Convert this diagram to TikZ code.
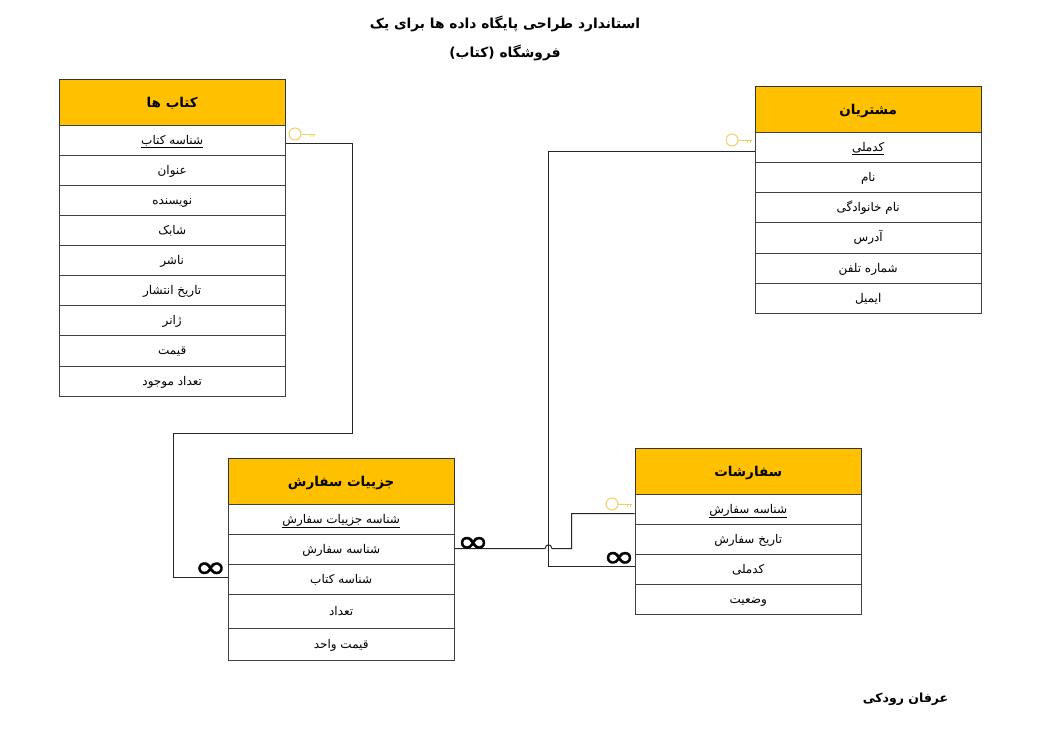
\documentclass[tikz,border=0pt]{standalone}
\usepackage{fontspec}
\TeXXeTstate=1
\newfontfamily\fafont[Script=Arabic]{DejaVu Sans}
\newfontfamily\symfont[FakeStretch=1.25,FakeBold=1.2]{DejaVu Sans}
\newcommand{\fa}[1]{{\fafont\beginR #1\endR}}
\usetikzlibrary{calc}
\definecolor{headgold}{HTML}{FFC000}
\definecolor{keygold}{HTML}{F0D060}
\tikzset{
  x=1pt,y=-1pt,
  rowbox/.style={draw=black!75,line width=1pt,fill=white,minimum width=226pt,inner sep=0pt,anchor=north west,xshift=-0.8pt,yshift=0.8pt,text height=12pt,text depth=4pt,font=\fontsize{12}{14}\selectfont},
  headbox/.style={draw=black!80,line width=1pt,fill=headgold,minimum width=226pt,minimum height=46pt,inner sep=0pt,anchor=north west,xshift=-0.8pt,yshift=0.8pt,text height=14pt,text depth=4pt,font=\fontsize{13.5}{16}\selectfont\bfseries},
  conn/.style={draw=black!85,line width=1pt},
  keyicon/.style={draw=keygold,line width=1pt},
  manymark/.style={inner sep=0pt,font=\fontsize{31}{31}\selectfont\symfont},
  titletext/.style={inner sep=0pt,align=center,font=\fontsize{13.8}{29}\selectfont\bfseries},
}
\newcommand{\keyat}[2]{%
  \draw[keyicon] (#1,#2) circle[radius=6pt];
  \draw[keyicon] (#1+6,#2) -- (#1+20,#2) (#1+15,#2) -- (#1+15,#2+3) (#1+18,#2) -- (#1+18,#2+3);}
\begin{document}
\begin{tikzpicture}
\useasboundingbox[fill=white] (0,0) rectangle (1046,731);

% title
\node[titletext] (title) at (505,38.5) {\fa{استاندارد طراحی پایگاه داده ها برای یک}\\\fa{فروشگاه (کتاب)}};
\node[inner sep=0pt,font=\fontsize{12.5}{16}\selectfont\bfseries] (author) at (905.5,699.5) {\fa{عرفان رودکی}};

% books
\node[headbox] (bh) at (59.5,79.5) {\fa{کتاب ها}};
\node[rowbox,minimum height=30pt] (b1) at (59.5,125.5) {\underline{\fa{شناسه کتاب}}};
\node[rowbox,minimum height=30pt] (b2) at (59.5,155.5) {\fa{عنوان}};
\node[rowbox,minimum height=30pt] (b3) at (59.5,185.5) {\fa{نویسنده}};
\node[rowbox,minimum height=30pt] (b4) at (59.5,215.5) {\fa{شابک}};
\node[rowbox,minimum height=30pt] (b5) at (59.5,245.5) {\fa{ناشر}};
\node[rowbox,minimum height=30pt] (b6) at (59.5,275.5) {\fa{تاریخ انتشار}};
\node[rowbox,minimum height=30pt] (b7) at (59.5,305.5) {\fa{ژانر}};
\node[rowbox,minimum height=31pt] (b8) at (59.5,335.5) {\fa{قیمت}};
\node[rowbox,minimum height=30pt] (b9) at (59.5,366.5) {\fa{تعداد موجود}};

% customers
\node[headbox] (ch) at (755.5,86.5) {\fa{مشتریان}};
\node[rowbox,minimum height=30pt] (c1) at (755.5,132.5) {\underline{\fa{کدملی}}};
\node[rowbox,minimum height=30pt] (c2) at (755.5,162.5) {\fa{نام}};
\node[rowbox,minimum height=30pt] (c3) at (755.5,192.5) {\fa{نام خانوادگی}};
\node[rowbox,minimum height=31pt] (c4) at (755.5,222.5) {\fa{آدرس}};
\node[rowbox,minimum height=30pt] (c5) at (755.5,253.5) {\fa{شماره تلفن}};
\node[rowbox,minimum height=30pt] (c6) at (755.5,283.5) {\fa{ایمیل}};

% orders
\node[headbox] (oh) at (635.5,448.5) {\fa{سفارشات}};
\node[rowbox,minimum height=30pt] (o1) at (635.5,494.5) {\underline{\fa{شناسه سفارش}}};
\node[rowbox,minimum height=30pt] (o2) at (635.5,524.5) {\fa{تاریخ سفارش}};
\node[rowbox,minimum height=30pt] (o3) at (635.5,554.5) {\fa{کدملی}};
\node[rowbox,minimum height=30pt] (o4) at (635.5,584.5) {\fa{وضعیت}};

% order details
\node[headbox] (dh) at (228.5,458.5) {\fa{جزییات سفارش}};
\node[rowbox,minimum height=30pt] (d1) at (228.5,504.5) {\underline{\fa{شناسه جزییات سفارش}}};
\node[rowbox,minimum height=30pt] (d2) at (228.5,534.5) {\fa{شناسه سفارش}};
\node[rowbox,minimum height=30pt] (d3) at (228.5,564.5) {\fa{شناسه کتاب}};
\node[rowbox,minimum height=34pt] (d4) at (228.5,594.5) {\fa{تعداد}};
\node[rowbox,minimum height=32pt] (d5) at (228.5,628.5) {\fa{قیمت واحد}};

% connector way points
\coordinate (w1) at (352.5,143.5);
\coordinate (w2) at (352.5,433.5);
\coordinate (w3) at (173.5,433.5);
\coordinate (w4) at (173.5,577.5);
\coordinate (w5) at (548.5,151.5);
\coordinate (w6) at (548.5,566.5);
\coordinate (w7) at (571.5,513.5);
\coordinate (w8) at (571.5,548.5);
\coordinate (h1) at (545,548.5);
\coordinate (h2) at (552,548.5);
\coordinate (h1c) at (546,543.5);
\coordinate (h2c) at (551,543.5);

\draw[conn] (b1.east|-w1) -- (w1) -- (w2) -- (w3) -- (w4) -- (d3.west|-w4);
\draw[conn] (c1.west|-w5) -- (w5) -- (w6) -- (o3.west|-w6);
\draw[conn] (o1.west|-w7) -- (w7) -- (w8) -- (h2) .. controls (h2c) and (h1c) .. (h1) -- (d2.east|-w8);

% keys
\keyat{295}{134}
\keyat{732}{140}
\keyat{612}{504}

% many marks
\node[manymark] (m1) at (210.5,570) {∞};
\node[manymark] (m2) at (473,544.5) {∞};
\node[manymark] (m3) at (619,559.5) {∞};
\end{tikzpicture}
\end{document}
